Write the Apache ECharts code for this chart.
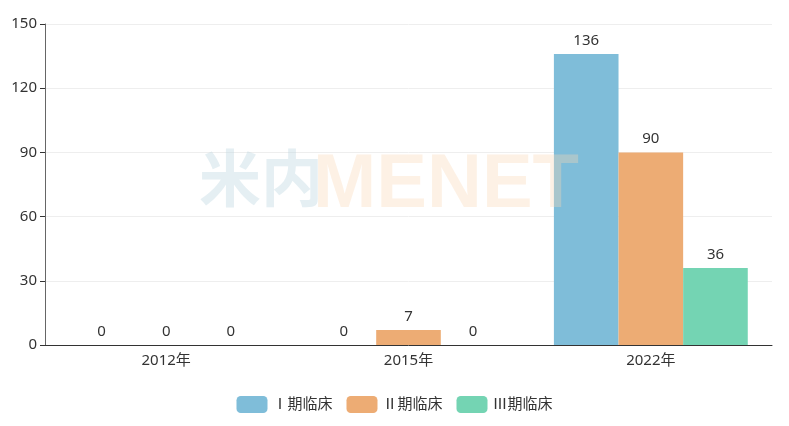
<!DOCTYPE html>
<html><head><meta charset="utf-8">
<script src="https://cdn.jsdelivr.net/npm/echarts@6/dist/echarts.min.js"></script>
<style>html,body{margin:0;padding:0;background:#fff}#c{width:789px;height:426px}</style>
</head><body><div id="c"></div>
<script>
const categories = ['2012年', '2015年', '2022年'];
const seriesNames = ['Ⅰ期临床', 'Ⅱ期临床', 'Ⅲ期临床'];
const phase1 = [0, 0, 136];
const phase2 = [0, 7, 90];
const phase3 = [0, 0, 36];
const yTicks = [0, 30, 60, 90, 120, 150];
const colors = ['#7fbdd9', '#edac74', '#74d4b3'];
const font = '"Noto Sans","Noto Sans CJK SC",sans-serif';
const chart = echarts.init(document.getElementById('c'));
const mk = (name, data, i) => ({
  name, type: 'bar', data, barGap: 0, barCategoryGap: '20%',
  itemStyle: { color: colors[i] },
  label: { show: true, position: 'top', color: '#333', fontSize: 15, fontFamily: font, distance: 6 }
});
chart.setOption({
  textStyle: { fontFamily: font },
  color: colors,
  grid: { left: 45, right: 17, top: 24, bottom: 81 },
  legend: {
    bottom: 8, itemWidth: 31, itemHeight: 17, itemGap: 14,
    textStyle: { fontSize: 15, color: '#333', fontFamily: font },
    data: seriesNames
  },
  xAxis: {
    type: 'category', data: categories,
    axisLine: { lineStyle: { color: '#333' } },
    axisTick: { lineStyle: { color: '#333' } },
    axisLabel: { color: '#333', fontSize: 15, margin: 8 }
  },
  yAxis: {
    type: 'value', min: yTicks[0], max: yTicks[yTicks.length - 1], interval: 30,
    axisLine: { show: true, lineStyle: { color: '#666' } },
    axisTick: { show: true, lineStyle: { color: '#333' } },
    axisLabel: { color: '#333', fontSize: 15, margin: 8 },
    splitLine: { lineStyle: { color: '#eee' } }
  },
  graphic: [
    { type: 'text', left: 199, top: 147, z: 100, silent: true,
      style: { text: '米内', font: 'bold 62px "Noto Sans CJK SC"', fill: 'rgba(190,215,225,0.4)' } },
    { type: 'text', left: 313, top: 148, z: 100, silent: true,
      style: { text: 'MENET', font: 'bold 76px "Liberation Sans"', fill: 'rgba(250,215,180,0.35)' } }
  ],
  series: [mk(seriesNames[0], phase1, 0), mk(seriesNames[1], phase2, 1), mk(seriesNames[2], phase3, 2)]
});
</script></body></html>
